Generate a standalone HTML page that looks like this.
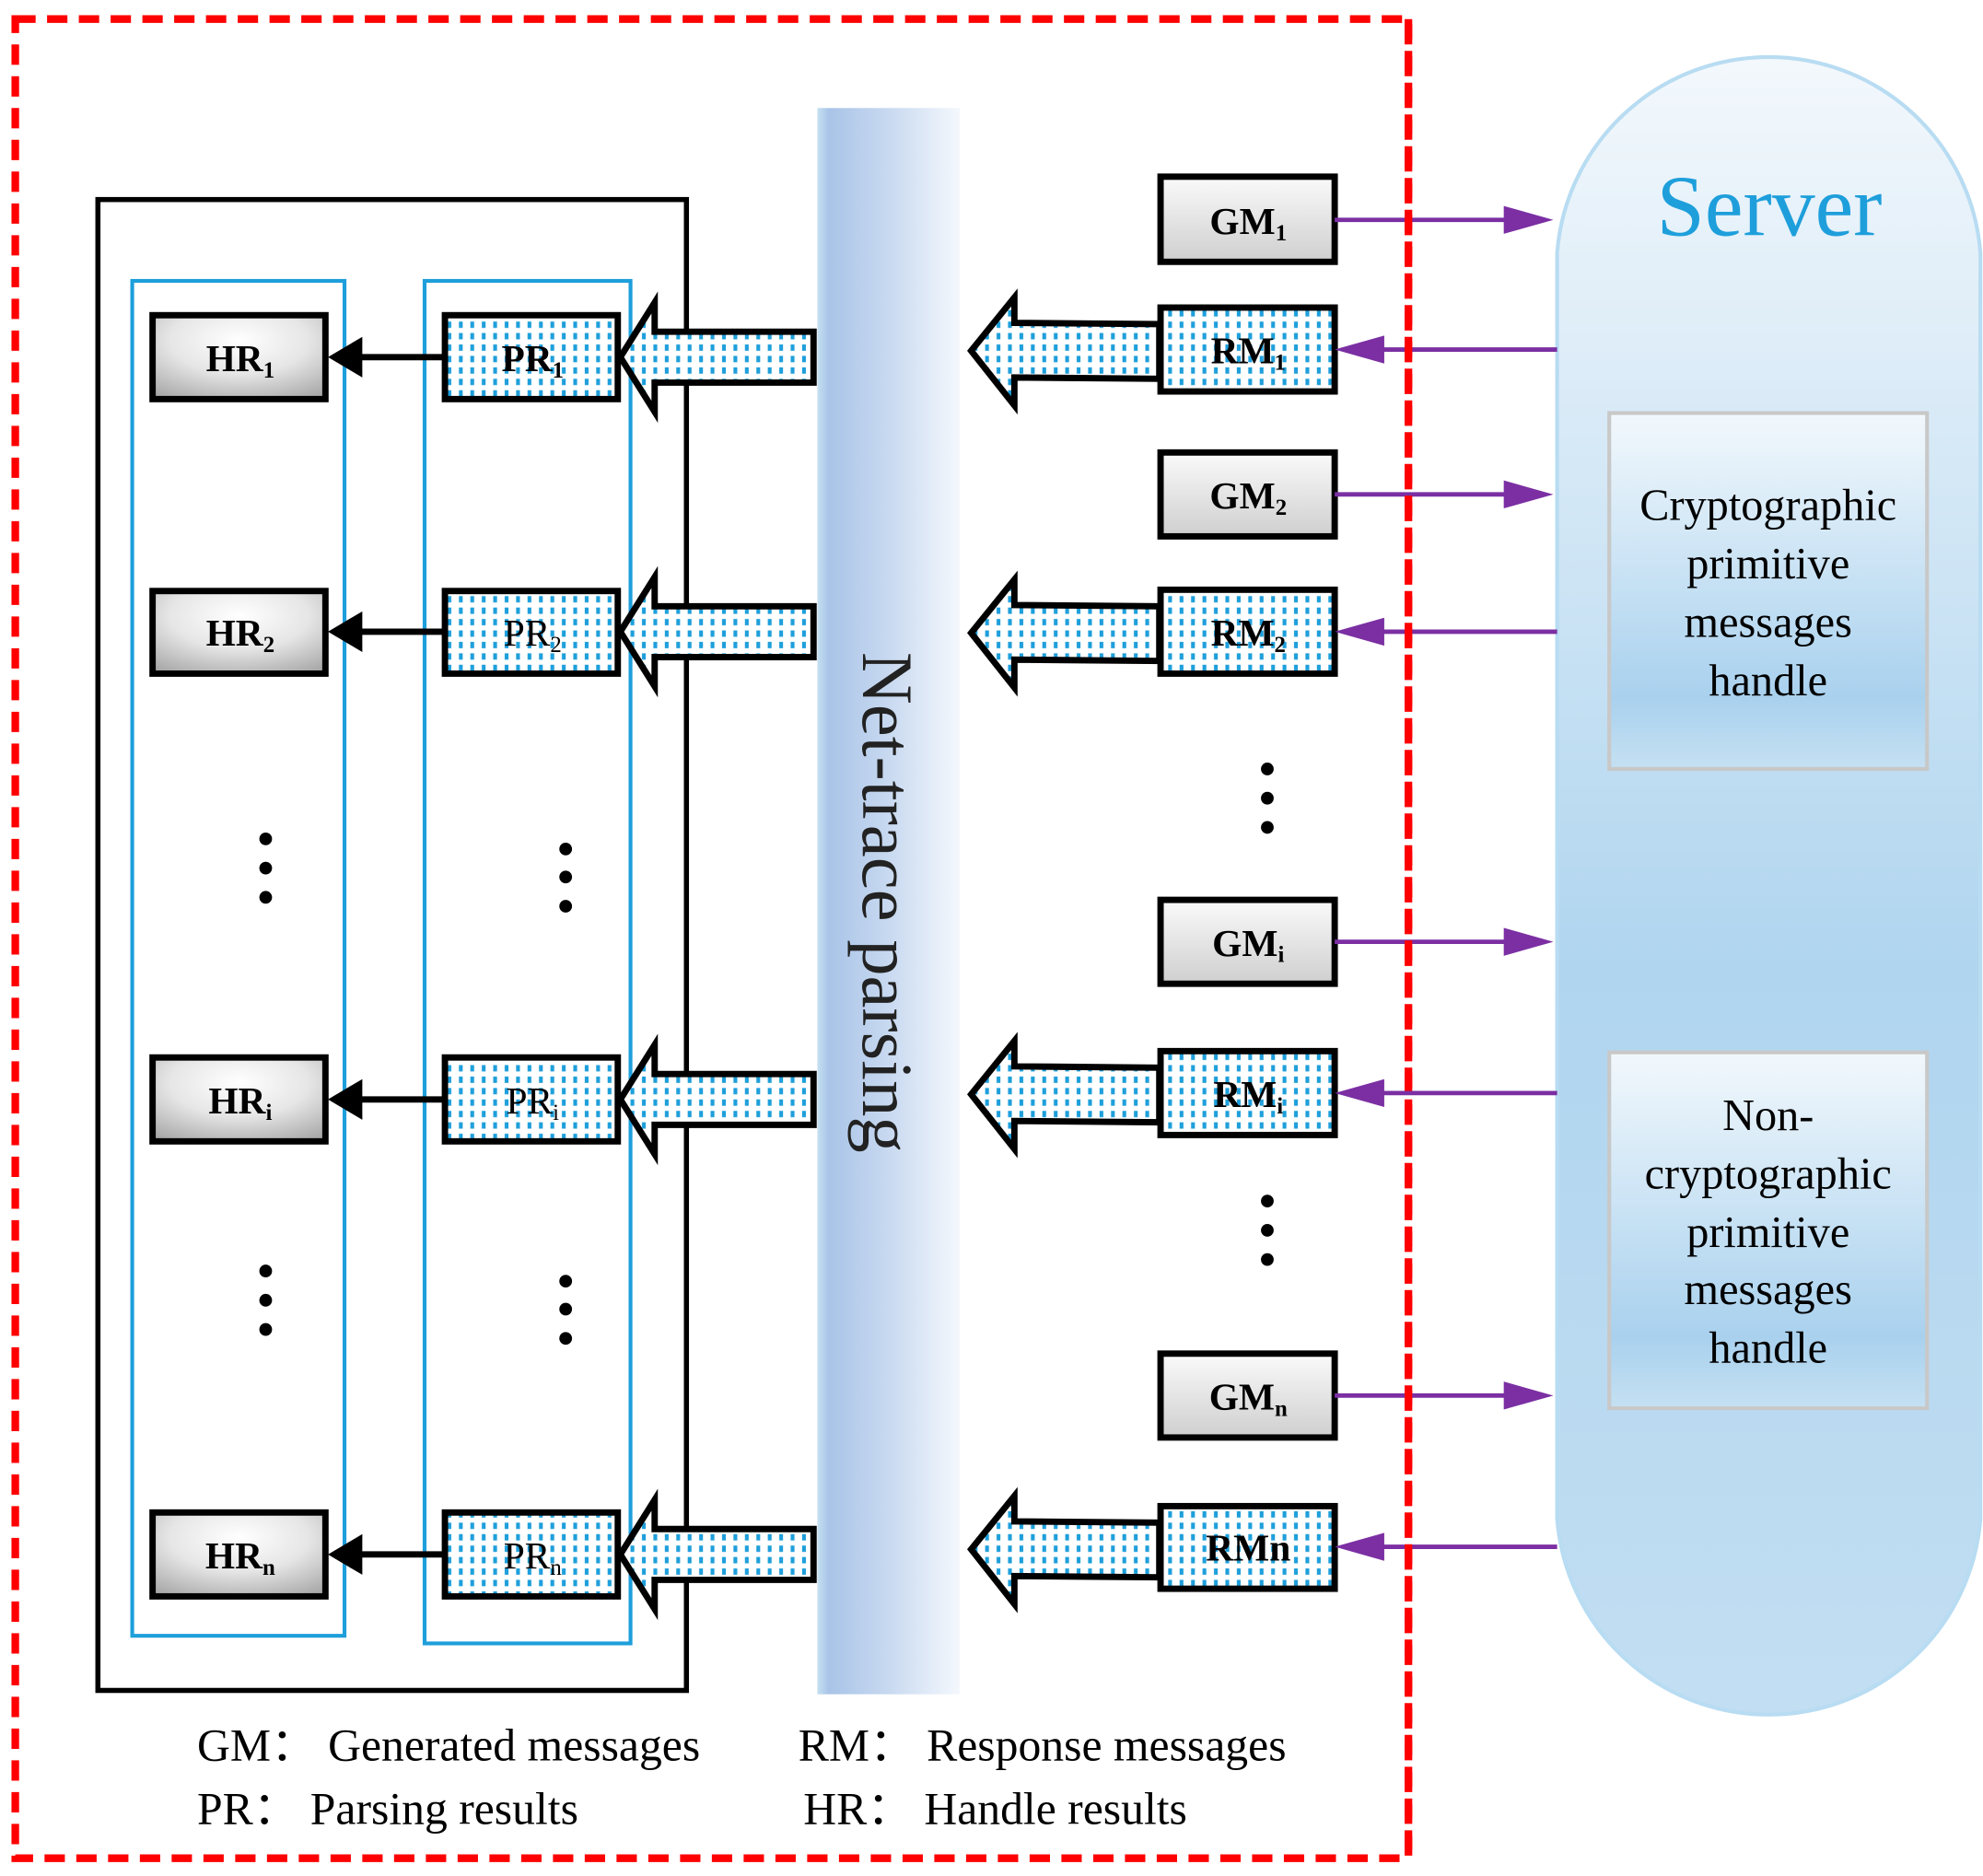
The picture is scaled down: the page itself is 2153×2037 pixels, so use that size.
<!DOCTYPE html>
<html><head><meta charset="utf-8"><style>html,body{margin:0;padding:0;background:#fff}svg{display:block}</style></head><body>
<svg width="2153" height="2037" viewBox="0 0 1560 1476" xmlns="http://www.w3.org/2000/svg" font-family="Liberation Serif, serif">
<defs>
<pattern id="dots" width="9" height="9" patternUnits="userSpaceOnUse"><rect width="9" height="9" fill="#fff"/><rect x="1" y="1" width="3" height="5" fill="#1e9fdb"/></pattern>
<radialGradient id="gray" cx="0.5" cy="0.3" r="0.8"><stop offset="0" stop-color="#fff"/><stop offset="0.5" stop-color="#e6e6e6"/><stop offset="1" stop-color="#a8a8a8"/></radialGradient>
<linearGradient id="gmg" x1="0" y1="0" x2="0" y2="1"><stop offset="0" stop-color="#fafafa"/><stop offset="1" stop-color="#cfcfcf"/></linearGradient>
<linearGradient id="bar" x1="0" y1="0" x2="1" y2="0"><stop offset="0" stop-color="#c5e0f0"/><stop offset="0.08" stop-color="#a9c4e8"/><stop offset="0.5" stop-color="#c8d9f0"/><stop offset="1" stop-color="#f4f8fd"/></linearGradient>
<linearGradient id="srv" x1="0" y1="0" x2="0" y2="1"><stop offset="0" stop-color="#f3f8fc"/><stop offset="0.55" stop-color="#b0d5ef"/><stop offset="1" stop-color="#c2def2"/></linearGradient>
<linearGradient id="cbox" x1="0" y1="0" x2="0" y2="1"><stop offset="0" stop-color="#f2f8fc"/><stop offset="0.8" stop-color="#a9d1ee"/><stop offset="1" stop-color="#c5e0f2"/></linearGradient>
</defs>

<path d="M1225,1195 L1225,199 A167,167 0 0 1 1558,199 L1558,1195 A167,167 0 0 1 1225,1195 Z" fill="url(#srv)" stroke="#b8dcf2" stroke-width="3"/>
<text x="1392" y="185" font-size="68" fill="#1e9fdb" text-anchor="middle">Server</text>
<rect x="1266" y="325" width="250" height="280" fill="url(#cbox)" stroke="#c8c8c8" stroke-width="3"/>
<g font-size="35" text-anchor="middle" fill="#000">
<text x="1391" y="409">Cryptographic</text><text x="1391" y="455">primitive</text><text x="1391" y="501">messages</text><text x="1391" y="547">handle</text>
</g>
<rect x="1266" y="828" width="250" height="280" fill="url(#cbox)" stroke="#c8c8c8" stroke-width="3"/>
<g font-size="35" text-anchor="middle" fill="#000">
<text x="1391" y="889">Non-</text><text x="1391" y="935">cryptographic</text><text x="1391" y="981">primitive</text><text x="1391" y="1026">messages</text><text x="1391" y="1072">handle</text>
</g>

<rect x="643" y="85" width="112" height="1248" fill="url(#bar)"/>
<text transform="translate(679,710) rotate(90)" font-size="57" text-anchor="middle" fill="#222">Net-trace parsing</text>

<rect x="12" y="15" width="1096" height="1447" fill="none" stroke="#ff0000" stroke-width="6" stroke-dasharray="16,9"/>

<rect x="77" y="157" width="463" height="1173" fill="none" stroke="#000" stroke-width="4"/>
<rect x="104" y="221" width="167" height="1066" fill="none" stroke="#1e9fdb" stroke-width="3"/>
<rect x="334" y="221" width="162" height="1072" fill="none" stroke="#1e9fdb" stroke-width="3"/>

<g stroke="#000" stroke-width="5">
<rect x="120" y="248" width="136" height="66" fill="url(#gray)"/>
<rect x="120" y="465" width="136" height="65" fill="url(#gray)"/>
<rect x="120" y="832" width="136" height="66" fill="url(#gray)"/>
<rect x="120" y="1190" width="136" height="66" fill="url(#gray)"/>
<rect x="350" y="248" width="136" height="66" fill="url(#dots)"/>
<rect x="350" y="465" width="136" height="65" fill="url(#dots)"/>
<rect x="350" y="832" width="136" height="66" fill="url(#dots)"/>
<rect x="350" y="1190" width="136" height="66" fill="url(#dots)"/>
<path d="M640,261 L515,261 L515,238 L488,281 L515,324 L515,301 L640,301 Z" fill="url(#dots)"/>
<path d="M640,477 L515,477 L515,454 L488,497 L515,540 L515,517 L640,517 Z" fill="url(#dots)"/>
<path d="M640,845 L515,845 L515,822 L488,865 L515,908 L515,885 L640,885 Z" fill="url(#dots)"/>
<path d="M640,1203 L515,1203 L515,1180 L488,1223 L515,1266 L515,1243 L640,1243 Z" fill="url(#dots)"/>
<path d="M912,255 L798,254 L798,234 L764,276 L798,319 L798,297 L912,298 Z" fill="url(#dots)"/>
<path d="M912,477 L798,476 L798,456 L764,498 L798,541 L798,519 L912,520 Z" fill="url(#dots)"/>
<path d="M912,840 L798,839 L798,819 L764,861 L798,904 L798,882 L912,883 Z" fill="url(#dots)"/>
<path d="M912,1198 L798,1197 L798,1177 L764,1219 L798,1262 L798,1240 L912,1241 Z" fill="url(#dots)"/>
<rect x="913" y="139" width="137" height="67" fill="url(#gmg)"/>
<rect x="913" y="242" width="137" height="66" fill="url(#dots)"/>
<rect x="913" y="356" width="137" height="66" fill="url(#gmg)"/>
<rect x="913" y="464" width="137" height="66" fill="url(#dots)"/>
<rect x="913" y="708" width="137" height="66" fill="url(#gmg)"/>
<rect x="913" y="827" width="137" height="66" fill="url(#dots)"/>
<rect x="913" y="1065" width="137" height="66" fill="url(#gmg)"/>
<rect x="913" y="1185" width="137" height="65" fill="url(#dots)"/>
</g>
<g stroke="#000" stroke-width="5" fill="#000">
<line x1="350" y1="281" x2="280" y2="281"/><path d="M258,281 L285,265 L285,297 Z" stroke="none"/>
<line x1="350" y1="497" x2="280" y2="497"/><path d="M258,497 L285,481 L285,513 Z" stroke="none"/>
<line x1="350" y1="865" x2="280" y2="865"/><path d="M258,865 L285,849 L285,881 Z" stroke="none"/>
<line x1="350" y1="1223" x2="280" y2="1223"/><path d="M258,1223 L285,1207 L285,1239 Z" stroke="none"/>
</g>
<g stroke="#7b2fa3" stroke-width="3.5" fill="#7b2fa3">
<line x1="1050" y1="173" x2="1190" y2="173"/><path d="M1222,173 L1183,162 L1183,184 Z" stroke="none"/>
<line x1="1050" y1="389" x2="1190" y2="389"/><path d="M1222,389 L1183,378 L1183,400 Z" stroke="none"/>
<line x1="1050" y1="741" x2="1190" y2="741"/><path d="M1222,741 L1183,730 L1183,752 Z" stroke="none"/>
<line x1="1050" y1="1098" x2="1190" y2="1098"/><path d="M1222,1098 L1183,1087 L1183,1109 Z" stroke="none"/>
<line x1="1225" y1="275" x2="1080" y2="275"/><path d="M1050,275 L1089,264 L1089,286 Z" stroke="none"/>
<line x1="1225" y1="497" x2="1080" y2="497"/><path d="M1050,497 L1089,486 L1089,508 Z" stroke="none"/>
<line x1="1225" y1="860" x2="1080" y2="860"/><path d="M1050,860 L1089,849 L1089,871 Z" stroke="none"/>
<line x1="1225" y1="1217" x2="1080" y2="1217"/><path d="M1050,1217 L1089,1206 L1089,1228 Z" stroke="none"/>
</g>
<line x1="1108" y1="15" x2="1108" y2="1462" stroke="#ff0000" stroke-width="6" stroke-dasharray="16,9"/>

<g fill="#000">
<circle cx="997" cy="605" r="5"/><circle cx="997" cy="628" r="5"/><circle cx="997" cy="651" r="5"/>
<circle cx="997" cy="945" r="5"/><circle cx="997" cy="968" r="5"/><circle cx="997" cy="991" r="5"/>
<circle cx="209" cy="660" r="5"/><circle cx="209" cy="683" r="5"/><circle cx="209" cy="706" r="5"/>
<circle cx="209" cy="1000" r="5"/><circle cx="209" cy="1023" r="5"/><circle cx="209" cy="1046" r="5"/>
<circle cx="445" cy="668" r="5"/><circle cx="445" cy="690" r="5"/><circle cx="445" cy="713" r="5"/>
<circle cx="445" cy="1008" r="5"/><circle cx="445" cy="1030" r="5"/><circle cx="445" cy="1053" r="5"/>
</g>

<g font-size="30" font-weight="bold" text-anchor="middle" fill="#000">
<text x="189" y="292">HR<tspan font-size="18" dy="5">1</tspan></text>
<text x="189" y="508">HR<tspan font-size="18" dy="5">2</tspan></text>
<text x="189" y="876">HR<tspan font-size="18" dy="5">i</tspan></text>
<text x="189" y="1234">HR<tspan font-size="18" dy="5">n</tspan></text>
<text x="419" y="292">PR<tspan font-size="18" dy="5">1</tspan></text>
<text x="419" y="508" font-weight="normal">PR<tspan font-size="18" dy="5">2</tspan></text>
<text x="419" y="876" font-weight="normal">PR<tspan font-size="18" dy="5">i</tspan></text>
<text x="419" y="1234" font-weight="normal">PR<tspan font-size="18" dy="5">n</tspan></text>
<text x="982" y="184">GM<tspan font-size="18" dy="5">1</tspan></text>
<text x="982" y="286">RM<tspan font-size="18" dy="5">1</tspan></text>
<text x="982" y="400">GM<tspan font-size="18" dy="5">2</tspan></text>
<text x="982" y="508">RM<tspan font-size="18" dy="5">2</tspan></text>
<text x="982" y="752">GM<tspan font-size="18" dy="5">i</tspan></text>
<text x="982" y="871">RM<tspan font-size="18" dy="5">i</tspan></text>
<text x="982" y="1109">GM<tspan font-size="18" dy="5">n</tspan></text>
<text x="982" y="1228">RMn</text>
</g>

<g font-size="36" fill="#000">
<text x="155" y="1385">GM：  Generated messages</text>
<text x="155" y="1435">PR：  Parsing results</text>
<text x="628" y="1385">RM：  Response messages</text>
<text x="632" y="1435">HR：  Handle results</text>
</g>
</svg>
</body></html>
